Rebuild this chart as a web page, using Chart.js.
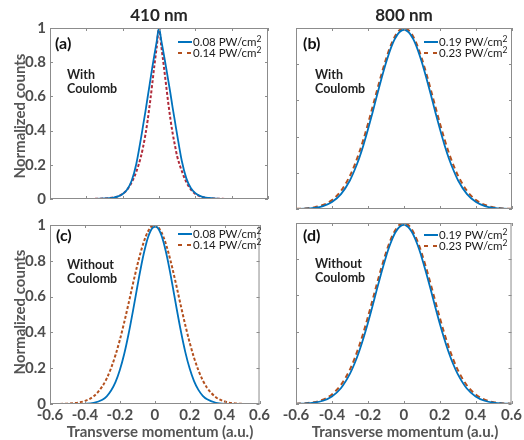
<!DOCTYPE html>
<html>
<head>
<meta charset="utf-8">
<script src="https://cdn.jsdelivr.net/npm/chart.js@4.4.1/dist/chart.umd.min.js"></script>
<style>
  body { margin: 0; background: #fff; font-family: Lato, "Open Sans", sans-serif; }
  #wrap { position: relative; width: 524px; height: 440px; overflow: hidden; }
  canvas { position: absolute; }
  .t { position: absolute; white-space: nowrap; line-height: 1; transform: translateY(-50%); z-index: 2; }
  .c { transform: translate(-50%, -50%); }
  .title { font-size: 17px; font-weight: bold; color: #262626; }
  .ylab { font-size: 15px; font-weight: bold; color: #555; transform: translate(-50%, -50%) rotate(-90deg); }
  .xlab { font-size: 15px; font-weight: bold; color: #555; }
  .pl { font-size: 16px; font-weight: bold; color: #111; }
  .note { font-size: 12.5px; font-weight: bold; color: #222; }
  .leg { font-size: 11.5px; color: #1a1a1a; }
  .leg sup { font-size: 8.5px; vertical-align: 4px; line-height: 0; }
  .sw { position: absolute; width: 14px; height: 2px; z-index: 2; }
</style>
</head>
<body>
<div id="wrap">
  <canvas id="cA" width="272" height="212" style="left:0;top:0"></canvas>
  <canvas id="cB" width="248" height="212" style="left:276px;top:0"></canvas>
  <canvas id="cC" width="272" height="228" style="left:0;top:212px"></canvas>
  <canvas id="cD" width="248" height="228" style="left:276px;top:212px"></canvas>

  <div class="t c title" style="left:159px;top:14px">410 nm</div>
  <div class="t c title" style="left:404px;top:14px">800 nm</div>
  <div class="t ylab" style="left:19px;top:116px">Normalized counts</div>
  <div class="t ylab" style="left:19px;top:312px">Normalized counts</div>
  <div class="t c xlab" style="left:160px;top:431px">Transverse momentum (a.u.)</div>
  <div class="t c xlab" style="left:405px;top:431px">Transverse momentum (a.u.)</div>

  <div class="t pl" style="left:55px;top:43px">(a)</div>
  <div class="t pl" style="left:303px;top:43px">(b)</div>
  <div class="t pl" style="left:56px;top:235px">(c)</div>
  <div class="t pl" style="left:303px;top:235px">(d)</div>

  <div class="t note" style="left:67px;top:75px">With</div>
  <div class="t note" style="left:67px;top:89px">Coulomb</div>
  <div class="t note" style="left:315px;top:75px">With</div>
  <div class="t note" style="left:315px;top:89px">Coulomb</div>
  <div class="t note" style="left:67px;top:265px">Without</div>
  <div class="t note" style="left:67px;top:279px">Coulomb</div>
  <div class="t note" style="left:315px;top:264px">Without</div>
  <div class="t note" style="left:315px;top:278px">Coulomb</div>

  <div id="legends"></div>
</div>
<script>
// transverse momentum grid (a.u.), denser near the peak
const momentum = [-0.6, -0.55, -0.5, -0.45, -0.4, -0.35, -0.3, -0.275, -0.25, -0.225, -0.2, -0.175, -0.15, -0.125, -0.1,
  -0.0875, -0.075, -0.0625, -0.05, -0.0375, -0.025, -0.0125, 0, 0.0125, 0.025, 0.0375, 0.05, 0.0625, 0.075, 0.0875,
  0.1, 0.125, 0.15, 0.175, 0.2, 0.225, 0.25, 0.275, 0.3, 0.35, 0.4, 0.45, 0.5, 0.55, 0.6];

// (a) 410 nm, with Coulomb
const a008 = [0, 0, 0, 0, 0, 0.001, 0.003, 0.005, 0.008, 0.015, 0.029, 0.056, 0.108, 0.205, 0.35,
  0.43, 0.51, 0.595, 0.68, 0.765, 0.845, 0.922, 1, 0.928, 0.855, 0.778, 0.70, 0.62, 0.535, 0.455,
  0.375, 0.225, 0.122, 0.064, 0.034, 0.018, 0.010, 0.006, 0.003, 0.001, 0, 0, 0, 0, 0];
const a014 = [0, 0, 0, 0, 0, 0.001, 0.003, 0.005, 0.009, 0.016, 0.03, 0.055, 0.098, 0.16, 0.245,
  0.305, 0.375, 0.46, 0.56, 0.67, 0.785, 0.89, 1, 0.895, 0.79, 0.68, 0.57, 0.47, 0.385, 0.315,
  0.25, 0.165, 0.10, 0.056, 0.03, 0.016, 0.009, 0.005, 0.003, 0.001, 0, 0, 0, 0, 0];

// (b) 800 nm, with Coulomb
const b019 = [0.001, 0.002, 0.006, 0.016, 0.039, 0.082, 0.159, 0.214, 0.278, 0.354, 0.44, 0.532, 0.628, 0.721, 0.808,
  0.847, 0.883, 0.915, 0.941, 0.962, 0.977, 0.987, 0.99, 0.987, 0.977, 0.962, 0.941, 0.915, 0.883, 0.847,
  0.808, 0.721, 0.628, 0.532, 0.44, 0.354, 0.278, 0.214, 0.159, 0.082, 0.039, 0.016, 0.006, 0.002, 0.001];
const b023 = [0.001, 0.003, 0.009, 0.022, 0.049, 0.100, 0.184, 0.241, 0.308, 0.385, 0.471, 0.562, 0.655, 0.745, 0.828,
  0.866, 0.900, 0.929, 0.954, 0.974, 0.988, 0.997, 1, 0.997, 0.988, 0.974, 0.954, 0.929, 0.900, 0.866,
  0.828, 0.745, 0.655, 0.562, 0.471, 0.385, 0.308, 0.241, 0.184, 0.100, 0.049, 0.022, 0.009, 0.003, 0.001];

// (c) 410 nm, without Coulomb
const c008 = [0, 0, 0, 0, 0.001, 0.006, 0.024, 0.043, 0.075, 0.122, 0.19, 0.279, 0.391, 0.519, 0.655,
  0.722, 0.785, 0.842, 0.893, 0.934, 0.965, 0.984, 0.99, 0.988, 0.972, 0.944, 0.905, 0.856, 0.80, 0.738,
  0.672, 0.535, 0.405, 0.29, 0.198, 0.128, 0.079, 0.046, 0.026, 0.007, 0.001, 0, 0, 0, 0];
const c014 = [0, 0.0005, 0.002, 0.006, 0.017, 0.043, 0.099, 0.143, 0.201, 0.273, 0.358, 0.456, 0.562, 0.671, 0.775,
  0.823, 0.867, 0.906, 0.94, 0.966, 0.985, 0.997, 1, 0.995, 0.982, 0.961, 0.933, 0.898, 0.857, 0.811,
  0.762, 0.656, 0.546, 0.44, 0.343, 0.258, 0.188, 0.132, 0.09, 0.038, 0.014, 0.004, 0.001, 0, 0];

// (d) 800 nm, without Coulomb
const d019 = [0.001, 0.0025, 0.007, 0.018, 0.042, 0.087, 0.166, 0.221, 0.286, 0.362, 0.446, 0.537, 0.632, 0.724, 0.81,
  0.849, 0.884, 0.915, 0.942, 0.962, 0.977, 0.987, 0.99, 0.987, 0.977, 0.962, 0.942, 0.915, 0.884, 0.849,
  0.81, 0.724, 0.632, 0.537, 0.446, 0.362, 0.286, 0.221, 0.166, 0.087, 0.042, 0.018, 0.007, 0.0025, 0.001];
const d023 = [0.0015, 0.004, 0.010, 0.024, 0.053, 0.105, 0.19, 0.248, 0.316, 0.393, 0.479, 0.57, 0.662, 0.751, 0.833,
  0.870, 0.903, 0.932, 0.956, 0.975, 0.989, 0.997, 1, 0.997, 0.989, 0.975, 0.956, 0.932, 0.903, 0.870,
  0.833, 0.751, 0.662, 0.57, 0.479, 0.393, 0.316, 0.248, 0.19, 0.105, 0.053, 0.024, 0.010, 0.004, 0.0015];

const legendA = ['0.08 PW/cm', '0.14 PW/cm'];
const legendB = ['0.19 PW/cm', '0.23 PW/cm'];

const BLUE = '#0072BD';
const BROWN = '#B4501E';
const CRIMSON = '#B02A3A';
const AXIS = '#8c8c8c';
const TICK_TEXT = '#4d4d4d';

Chart.defaults.font.family = 'Lato, "Open Sans", sans-serif';

// MATLAB-like box with inward ticks
const boxTicks = {
    id: 'boxTicks',
    afterDatasetsDraw(chart) {
        const { ctx, chartArea: a, scales } = chart;
        ctx.save();
        ctx.strokeStyle = AXIS;
        ctx.lineWidth = 1;
        ctx.beginPath();
        scales.x.ticks.forEach(t => {
            const px = Math.round(scales.x.getPixelForValue(t.value)) + 0.5;
            ctx.moveTo(px, a.bottom); ctx.lineTo(px, a.bottom - 3);
            ctx.moveTo(px, a.top); ctx.lineTo(px, a.top + 3);
        });
        scales.y.ticks.forEach(t => {
            const py = Math.round(scales.y.getPixelForValue(t.value)) + 0.5;
            ctx.moveTo(a.left, py); ctx.lineTo(a.left + 3, py);
            ctx.moveTo(a.right, py); ctx.lineTo(a.right - 3, py);
        });
        ctx.stroke();
        ctx.strokeRect(a.left + 0.5, a.top + 0.5, a.width - 1, a.height - 1);
        ctx.restore();
    }
};

const fmt = v => String(Number(v.toFixed(1)));

function makePanel(id, solid, dashed, dashColor, dash, cfg) {
    const pts = arr => momentum.map((x, i) => ({ x: x, y: arr[i] }));
    const tickFont = { size: 15, weight: 'bold' };
    return new Chart(document.getElementById(id), {
        type: 'line',
        data: {
            datasets: [
                { data: pts(solid), borderColor: BLUE, borderWidth: 1.8, pointRadius: 0, cubicInterpolationMode: 'monotone' },
                { data: pts(dashed), borderColor: dashColor, borderWidth: 2, borderDash: dash, pointRadius: 0, cubicInterpolationMode: 'monotone' }
            ]
        },
        options: {
            responsive: false,
            animation: false,
            devicePixelRatio: 1,
            layout: { padding: { top: cfg.top, right: cfg.right, left: 0, bottom: 0 } },
            plugins: { legend: { display: false }, tooltip: { enabled: false } },
            scales: {
                x: {
                    type: 'linear', min: -0.6, max: 0.6,
                    ticks: { display: cfg.showX, stepSize: 0.2, padding: 2, autoSkip: false, maxRotation: 0, minRotation: 0,
                        font: tickFont, color: TICK_TEXT, callback: fmt },
                    grid: { display: false, drawTicks: false },
                    border: { display: false },
                    afterFit: s => { s.height = cfg.xh; }
                },
                y: {
                    min: 0, max: 1,
                    ticks: { display: cfg.showY, stepSize: 0.2, padding: 4, font: tickFont, color: TICK_TEXT, callback: fmt },
                    grid: { display: false, drawTicks: false },
                    border: { display: false },
                    afterFit: s => { s.width = cfg.yw; }
                }
            }
        },
        plugins: [boxTicks]
    });
}

makePanel('cA', a008, a014, CRIMSON, [3, 2], { top: 28, right: 4, xh: 3, yw: 50, showX: false, showY: true });
makePanel('cB', b019, b023, BROWN, [5, 3.5], { top: 28, right: 12, xh: 3, yw: 20, showX: false, showY: false });
makePanel('cC', c008, c014, BROWN, [3, 2], { top: 11, right: 4, xh: 36, yw: 50, showX: true, showY: true });
makePanel('cD', d019, d023, BROWN, [5, 3.5], { top: 11, right: 12, xh: 36, yw: 20, showX: true, showY: false });

// legends (HTML so the superscript can be kept)
function addLegend(x, y1, y2, labels, dashColor) {
    const box = document.getElementById('legends');
    const rows = [[y1, labels[0], 'background:' + BLUE], [y2, labels[1],
        'background:repeating-linear-gradient(90deg,' + dashColor + ' 0 4px,transparent 4px 9px)']];
    rows.forEach(r => {
        const sw = document.createElement('div');
        sw.className = 'sw';
        sw.style.cssText = 'left:' + x + 'px;top:' + (r[0] - 1) + 'px;' + r[2];
        box.appendChild(sw);
        const tx = document.createElement('div');
        tx.className = 't leg';
        tx.style.left = (x + 15) + 'px';
        tx.style.top = r[0] + 'px';
        tx.innerHTML = r[1] + '<sup>2</sup>';
        box.appendChild(tx);
    });
}
addLegend(178, 42, 53, legendA, BROWN);
addLegend(424, 42, 53, legendB, BROWN);
addLegend(178, 234, 245, legendA, BROWN);
addLegend(424, 235, 246, legendB, BROWN);
</script>
</body>
</html>
